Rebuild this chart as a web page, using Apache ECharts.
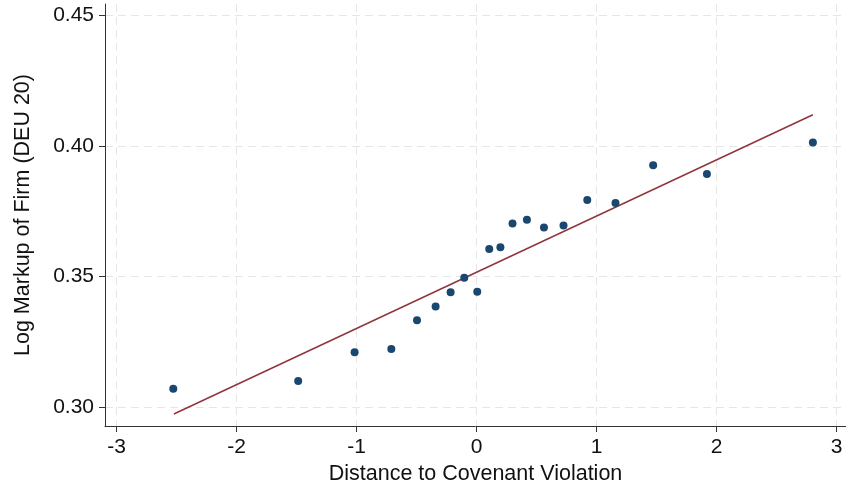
<!DOCTYPE html>
<html>
<head>
<meta charset="utf-8">
<script src="https://cdn.jsdelivr.net/npm/echarts@6/dist/echarts.min.js"></script>
<style>
    html, body { margin: 0; padding: 0; background: #fff; }
    #chart { width: 846px; height: 491px; }
</style>
</head>
<body>
<div id="chart"></div>
<script>
// binned scatter: distance to covenant violation vs log markup
var binX = [-2.528, -1.487, -1.017, -0.711, -0.497, -0.342, -0.217, -0.103, 0.005, 0.105,
            0.198, 0.299, 0.419, 0.561, 0.724, 0.922, 1.157, 1.471, 1.919, 2.802];
var binY = [0.3071, 0.3100, 0.3210, 0.3223, 0.3333, 0.3385, 0.3440, 0.3495, 0.3442, 0.3605,
            0.3612, 0.3703, 0.3717, 0.3688, 0.3695, 0.3793, 0.3781, 0.3926, 0.3892, 0.4013];
// fitted line end points
var fitX = [-2.523, 2.802];
var fitY = [0.2974, 0.4119];

var xTicks = [-3, -2, -1, 0, 1, 2, 3];
var yTicks = [0.30, 0.35, 0.40, 0.45];

var font = "'Liberation Sans', Arial, sans-serif";
var gridLine = { show: true, lineStyle: { color: '#e6e6e6', type: [8, 5], width: 1 } };

var points = binX.map(function (x, i) { return [x, binY[i]]; });
var fit = fitX.map(function (x, i) { return [x, fitY[i]]; });

var myChart = echarts.init(document.getElementById('chart'));
myChart.setOption({
    animation: false,
    backgroundColor: '#fff',
    grid: { left: 105, right: 0, top: 4, bottom: 65 },
    xAxis: {
        type: 'value',
        min: -3.097,
        max: 3.078,
        name: 'Distance to Covenant Violation',
        nameLocation: 'middle',
        nameGap: 36,
        nameTextStyle: { fontSize: 21.5, color: '#111', fontFamily: font },
        axisLine: { onZero: false, lineStyle: { color: '#333', width: 1 } },
        axisTick: { show: true, length: 6, customValues: xTicks, lineStyle: { color: '#333' } },
        axisLabel: {
            customValues: xTicks, margin: 11, fontSize: 21, color: '#111', fontFamily: font,
            formatter: function (v) { return String(v); }
        },
        splitLine: gridLine
    },
    yAxis: {
        type: 'value',
        min: 0.2928,
        max: 0.4543,
        name: 'Log Markup of Firm (DEU 20)',
        nameLocation: 'middle',
        nameGap: 71,
        nameTextStyle: { fontSize: 21.5, color: '#111', fontFamily: font },
        axisLine: { show: true, onZero: false, lineStyle: { color: '#333', width: 1 } },
        axisTick: { show: true, length: 6, customValues: yTicks, lineStyle: { color: '#333' } },
        axisLabel: {
            customValues: yTicks, margin: 11, fontSize: 21, color: '#111', fontFamily: font,
            formatter: function (v) { return v.toFixed(2); }
        },
        splitLine: gridLine
    },
    series: [{
        type: 'line',
        data: fit,
        symbol: 'none',
        lineStyle: { color: '#90353b', width: 1.5 },
        z: 2
    }, {
        type: 'scatter',
        data: points,
        symbolSize: 8,
        itemStyle: { color: '#1a476f', opacity: 1 },
        z: 3
    }]
});
</script>
</body>
</html>
